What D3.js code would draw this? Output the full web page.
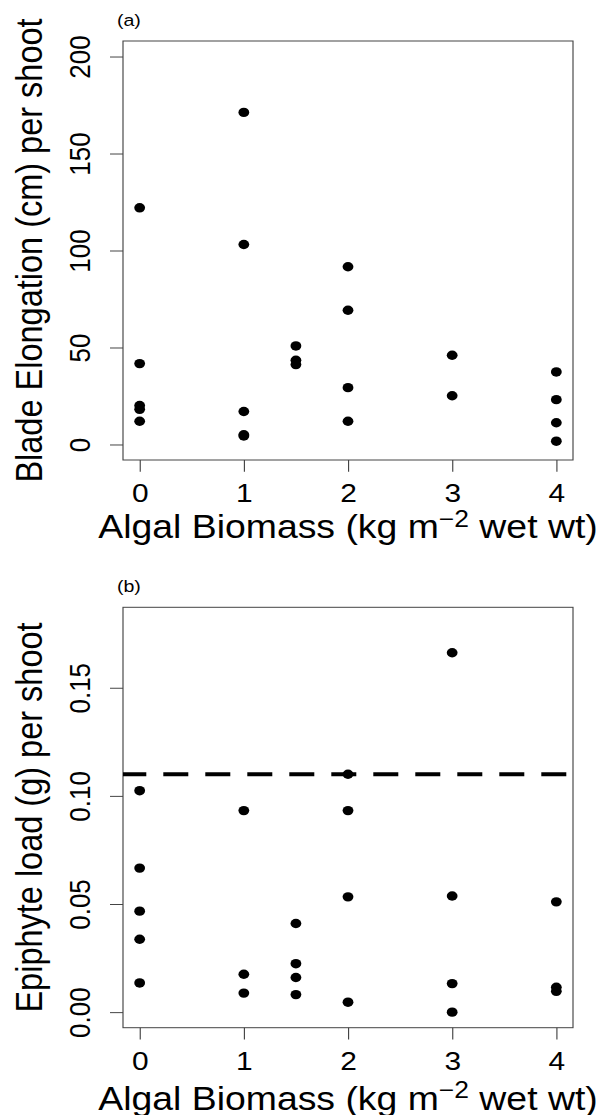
<!DOCTYPE html>
<html lang="en">
<head>
<meta charset="UTF-8"/>
<title>Blade elongation and epiphyte load vs algal biomass</title>
<script src="https://d3js.org/d3.v7.min.js"></script>
<style>
    body { margin: 0; background: #fff; }
    svg { display: block; font-family: "Liberation Sans", Arial, sans-serif; }
</style>
</head>
<body>
<script>
    // panel (a) data: blade elongation per shoot
    var biomassA = [0, 0, 0, 0, 0, 1, 1, 1, 1, 1, 1.5, 1.5, 1.5, 2, 2, 2, 2, 3, 3, 4, 4, 4, 4];
    var elongation = [122, 41.7, 20.1, 18.1, 12.0, 171.2, 103.1, 17.0, 5.0, 4.4, 50.8, 43.4, 41.2,
        91.6, 69.2, 29.3, 12.0, 46.0, 25.1, 37.4, 23.1, 11.2, 1.7];

    // panel (b) data: epiphyte load per shoot
    var biomassB = [0, 0, 0, 0, 0, 1, 1, 1, 1.5, 1.5, 1.5, 1.5, 2, 2, 2, 2, 3, 3, 3, 3, 4, 4, 4];
    var epiphyte = [0.1024, 0.0666, 0.0467, 0.0337, 0.0135, 0.0932, 0.0175, 0.0088,
        0.041, 0.0224, 0.016, 0.0081, 0.110, 0.0932, 0.0533, 0.0046,
        0.1662, 0.0537, 0.0132, 0.0, 0.051, 0.0115, 0.0096];
    var epiphyteLine = 0.11;

    // tick labels
    var xTicks = [0, 1, 2, 3, 4];
    var yTicksA = [0, 50, 100, 150, 200];
    var yTicksB = [0, 0.05, 0.10, 0.15];

    var w = 600;
    var h = 1115;
    var SX = 1.15; // the figure is a little wider than tall, so stretch horizontally
    var boxLeft = 123 / SX;
    var boxRight = 573 / SX;

    var svg = d3.select("body")
        .append("svg")
        .attr("width", w)
        .attr("height", h);

    var g = svg.append("g").attr("transform", "scale(" + SX + ",1)");

    function drawPanel(p) {
        var xScale = d3.scaleLinear()
            .domain([-0.16, 4.16])
            .range([boxLeft, boxRight]);

        var yScale = d3.scaleLinear()
            .domain(p.yDomain)
            .range([p.bottom, p.top]);

        var panel = g.append("g");

        //x axis
        var xAxis = panel.append("g")
            .attr("transform", "translate(0," + p.bottom + ")")
            .call(d3.axisBottom(xScale).tickValues(xTicks).tickSize(11.7).tickPadding(12)
                .tickFormat(d3.format("d")));
        xAxis.select(".domain").remove();
        xAxis.selectAll("line").attr("stroke", "#444");
        xAxis.selectAll("text").attr("font-size", 26).attr("fill", "#000")
            .attr("font-family", "Liberation Sans, Arial, sans-serif");

        //y axis, labels parallel to axis
        var yAxis = panel.append("g")
            .attr("transform", "translate(" + boxLeft + ",0)")
            .call(d3.axisLeft(yScale).tickValues(p.yTicks).tickSize(11.3).tickFormat(p.fmt));
        yAxis.select(".domain").remove();
        yAxis.selectAll("line").attr("stroke", "#444");
        yAxis.selectAll("text")
            .attr("x", null)
            .attr("dy", null)
            .attr("text-anchor", "middle")
            .attr("transform", "translate(-28.7,0) rotate(-90)")
            .attr("font-size", 26)
            .attr("fill", "#000")
            .attr("font-family", "Liberation Sans, Arial, sans-serif");

        //box
        panel.append("rect")
            .attr("x", boxLeft)
            .attr("y", p.top)
            .attr("width", boxRight - boxLeft)
            .attr("height", p.bottom - p.top)
            .attr("fill", "none")
            .attr("stroke", "#444")
            .attr("stroke-width", 1);

        //reference line
        if (p.hline !== undefined) {
            panel.append("line")
                .attr("x1", boxLeft)
                .attr("x2", boxRight)
                .attr("y1", yScale(p.hline))
                .attr("y2", yScale(p.hline))
                .attr("stroke", "#000")
                .attr("stroke-width", 4)
                .attr("stroke-dasharray", (25 / SX) + "," + (17 / SX))
                .attr("stroke-dashoffset", 1.7 / SX);
        }

        //points
        panel.selectAll("circle")
            .data(p.xs)
            .enter()
            .append("circle")
            .attr("cx", function (d) { return xScale(d); })
            .attr("cy", function (d, i) { return yScale(p.ys[i]); })
            .attr("r", 4.7)
            .attr("fill", "#000");

        //panel letter
        panel.append("text")
            .attr("x", 117 / SX)
            .attr("y", p.top - 15)
            .attr("font-size", 17)
            .text(p.label);

        //y title
        panel.append("text")
            .attr("transform", "translate(" + (41.8 / SX) + "," + ((p.top + p.bottom) / 2) + ") rotate(-90)")
            .attr("text-anchor", "middle")
            .attr("font-size", 32.5)
            .text(p.yTitle);

        //x title with superscript
        var xt = panel.append("text")
            .attr("x", (boxLeft + boxRight) / 2)
            .attr("y", p.bottom + p.xTitleGap)
            .attr("text-anchor", "middle")
            .attr("font-size", 32.5);
        xt.append("tspan").text("Algal Biomass (kg m");
        xt.append("tspan").attr("font-size", 23).attr("dy", -11.6).text("\u22122");
        xt.append("tspan").attr("dy", 11.6).text(" wet wt)");
    }

    drawPanel({
        top: 41, bottom: 460,
        yDomain: [-8, 208], yTicks: yTicksA, fmt: d3.format("d"),
        xs: biomassA, ys: elongation,
        label: "(a)", yTitle: "Blade Elongation (cm) per shoot", xTitleGap: 78.3
    });

    drawPanel({
        top: 607.3, bottom: 1027.7,
        yDomain: [-0.0072, 0.1872], yTicks: yTicksB, fmt: d3.format(".2f"),
        xs: biomassB, ys: epiphyte, hline: epiphyteLine,
        label: "(b)", yTitle: "Epiphyte load (g) per shoot", xTitleGap: 82.3
    });
</script>
</body>
</html>
